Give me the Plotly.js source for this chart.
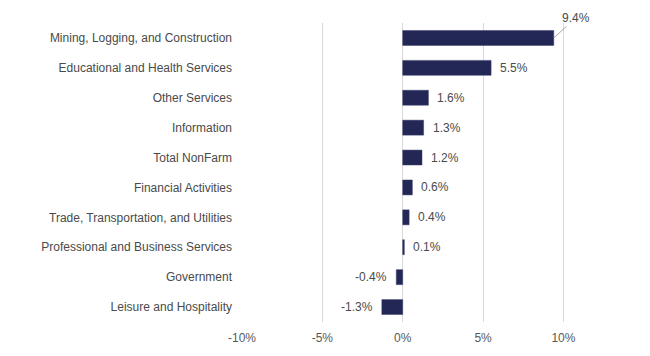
<!DOCTYPE html>
<html>
<head>
<meta charset="utf-8">
<script src="https://cdn.plot.ly/plotly-3.0.1.min.js"></script>
<style>html,body{margin:0;padding:0;background:#fff;}#chart{width:650px;height:356px;}</style>
</head>
<body>
<div id="chart"></div>
<script>
const categories = [
  "Mining, Logging, and Construction",
  "Educational and Health Services",
  "Other Services",
  "Information",
  "Total NonFarm",
  "Financial Activities",
  "Trade, Transportation, and Utilities",
  "Professional and Business Services",
  "Government",
  "Leisure and Hospitality"
];
const values = [9.4, 5.5, 1.6, 1.3, 1.2, 0.6, 0.4, 0.1, -0.4, -1.3];
const tickVals = [-10, -5, 0, 5, 10];
const tickText = ["-10%", "-5%", "0%", "5%", "10%"];

const labelFont = {family: "Liberation Sans, Arial, sans-serif", size: 12, color: "#4a4a4a"};

const annotations = values.map((v, i) => {
  const txt = v.toFixed(1) + "%";
  if (i === 0) {
    return {x: v, y: categories[i], xref: "x", yref: "y", text: txt, showarrow: true,
      arrowhead: 0, arrowwidth: 1, arrowcolor: "#a6a6a6", ax: 22, ay: -20, standoff: 0,
      font: labelFont};
  }
  return {x: v, y: categories[i], xref: "x", yref: "y", text: txt, showarrow: false,
    xanchor: v >= 0 ? "left" : "right", xshift: v >= 0 ? 7 : -7, font: labelFont};
});

const trace = {
  type: "bar",
  orientation: "h",
  x: values,
  y: categories,
  marker: {color: "#222756", line: {color: "#3a3f6a", width: 0.5}},
  hoverinfo: "none"
};

const layout = {
  width: 650, height: 356,
  margin: {l: 242, r: 8, t: 23, b: 34},
  paper_bgcolor: "#fff", plot_bgcolor: "#fff",
  bargap: 0.5,
  showlegend: false,
  xaxis: {
    range: [-10, 14.89],
    tickvals: tickVals, ticktext: tickText,
    showgrid: true, gridcolor: "#d9d9d9", gridwidth: 1,
    zeroline: false, showline: false, ticks: "",
    ticklabelstandoff: 7,
    tickfont: {family: "Liberation Sans, Arial, sans-serif", size: 12, color: "#595959"},
    fixedrange: true
  },
  yaxis: {
    type: "category",
    categoryorder: "array", categoryarray: categories,
    autorange: "reversed",
    showgrid: false, zeroline: false, showline: false, ticks: "",
    ticklabelstandoff: 9,
    tickfont: labelFont,
    fixedrange: true
  },
  annotations: annotations
};

Plotly.newPlot("chart", [trace], layout, {displayModeBar: false, staticPlot: true});
</script>
</body>
</html>
